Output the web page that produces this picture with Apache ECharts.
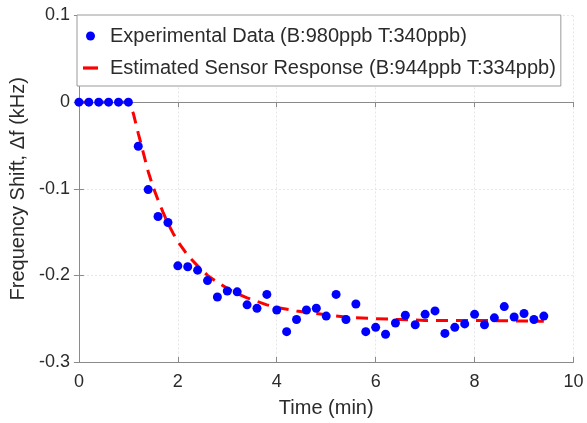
<!DOCTYPE html>
<html>
<head>
<meta charset="utf-8">
<script src="https://cdn.jsdelivr.net/npm/echarts@6/dist/echarts.min.js"></script>
<style>
  html, body { margin: 0; padding: 0; background: #fff; }
  #chart { width: 587px; height: 423px; }
</style>
</head>
<body>
<div id="chart"></div>
<script>
// measured points (time in min, shift in kHz)
const expTime = [0, 0.2, 0.4, 0.6, 0.8, 1.0, 1.2, 1.4, 1.6, 1.8, 2.0, 2.2, 2.4, 2.6, 2.8, 3.0, 3.2, 3.4, 3.6, 3.8,
  4.0, 4.2, 4.4, 4.6, 4.8, 5.0, 5.2, 5.4, 5.6, 5.8, 6.0, 6.2, 6.4, 6.6, 6.8, 7.0, 7.2, 7.4, 7.6, 7.8,
  8.0, 8.2, 8.4, 8.6, 8.8, 9.0, 9.2, 9.4];
const expShift = [0, 0, 0, 0, 0, 0, -0.051, -0.101, -0.132, -0.139, -0.189, -0.190, -0.194, -0.206, -0.225, -0.218, -0.219, -0.234, -0.238, -0.222,
  -0.240, -0.265, -0.251, -0.240, -0.238, -0.247, -0.222, -0.251, -0.233, -0.265, -0.260, -0.268, -0.255, -0.246, -0.257, -0.245, -0.241, -0.267, -0.260, -0.256,
  -0.245, -0.257, -0.249, -0.236, -0.248, -0.244, -0.251, -0.247];

// fitted response
const fitTime = [0, 0.5, 1.0, 1.1, 1.2, 1.3, 1.4, 1.5, 1.6, 1.7, 1.8, 1.9, 2.0, 2.2, 2.4, 2.6, 2.8, 3.0, 3.2, 3.4, 3.6, 3.8,
  4.0, 4.4, 4.8, 5.2, 5.6, 6.0, 6.5, 7.0, 8.0, 9.4];
const fitShift = [0, 0, 0, -0.013, -0.036, -0.058, -0.080, -0.098, -0.113, -0.127, -0.140, -0.151, -0.161, -0.177, -0.189, -0.200, -0.208, -0.215, -0.221, -0.226, -0.230, -0.234,
  -0.237, -0.241, -0.244, -0.247, -0.249, -0.250, -0.251, -0.252, -0.252, -0.253];

const legendNames = ['Experimental Data (B:980ppb T:340ppb)', 'Estimated Sensor Response (B:944ppb T:334ppb)'];

const FONT = 'Liberation Sans, Arial, sans-serif';
const axisGray = '#8a8a8a';
const textColor = '#2b2b2b';
const gridStyle = { show: true, lineStyle: { color: '#e6e6e6', width: 1, type: [2, 2] } };

const chart = echarts.init(document.getElementById('chart'));

const option = {
  animation: false,
  backgroundColor: '#fff',
  grid: { left: 76.5, right: 13.5, top: 15.5, bottom: 60.3, containLabel: false },
  legend: {
    orient: 'vertical',
    left: 77,
    top: 15,
    padding: [11, 5, 8, 6],
    itemGap: 12,
    itemWidth: 15,
    itemHeight: 9,
    backgroundColor: '#fff',
    borderColor: '#9a9a9a',
    borderWidth: 1,
    borderRadius: 0,
    textStyle: { fontFamily: FONT, fontSize: 20, color: textColor, lineHeight: 20, padding: [0, 0, 0, 7] },
    data: [
      { name: legendNames[0], icon: 'circle' },
      { name: legendNames[1], icon: 'path://M0,0h14v3h-14z' }
    ]
  },
  xAxis: [
    {
      type: 'value', min: 0, max: 10, interval: 2,
      name: 'Time (min)', nameLocation: 'middle', nameGap: 36,
      nameTextStyle: { fontFamily: FONT, fontSize: 20, color: textColor },
      axisLine: { show: true, onZero: false, lineStyle: { color: axisGray } },
      axisTick: { show: true, inside: true, length: 5, lineStyle: { color: axisGray } },
      axisLabel: { fontFamily: FONT, fontSize: 18, color: textColor, margin: 11 },
      splitLine: gridStyle
    },
    {
      type: 'value', position: 'top', min: 0, max: 10, interval: 2,
      axisLine: { show: true, lineStyle: { color: axisGray } },
      axisTick: { show: true, inside: true, length: 5, lineStyle: { color: axisGray } },
      axisLabel: { show: false },
      splitLine: { show: false }
    }
  ],
  yAxis: [
    {
      type: 'value', min: -0.3, max: 0.1, interval: 0.1,
      name: 'Frequency Shift, \u0394f (kHz)', nameLocation: 'middle', nameGap: 47,
      nameTextStyle: { fontFamily: FONT, fontSize: 20, color: textColor },
      axisLine: { show: true, onZero: false, lineStyle: { color: axisGray } },
      axisTick: { show: true, inside: true, length: 5, lineStyle: { color: axisGray } },
      axisLabel: {
        fontFamily: FONT, fontSize: 18, color: textColor, margin: 9,
        formatter: v => String(Number(v.toFixed(1)))
      },
      splitLine: gridStyle
    },
    {
      type: 'value', position: 'right', min: -0.3, max: 0.1, interval: 0.1,
      axisLine: { show: true, lineStyle: { color: axisGray } },
      axisTick: { show: true, inside: true, length: 5, lineStyle: { color: axisGray } },
      axisLabel: { show: false },
      splitLine: { show: false }
    }
  ],
  series: [
    {
      name: legendNames[1],
      type: 'line',
      data: fitTime.map((t, i) => [t, fitShift[i]]),
      showSymbol: false,
      smooth: false,
      itemStyle: { color: '#ff0000' },
      lineStyle: { color: '#ff0000', width: 3, type: [12, 8] },
      z: 2
    },
    {
      name: legendNames[0],
      type: 'scatter',
      data: expTime.map((t, i) => [t, expShift[i]]),
      symbol: 'circle',
      symbolSize: 9,
      itemStyle: { color: '#0000ff', opacity: 1 },
      z: 3
    }
  ]
};

chart.setOption(option);
</script>
</body>
</html>
